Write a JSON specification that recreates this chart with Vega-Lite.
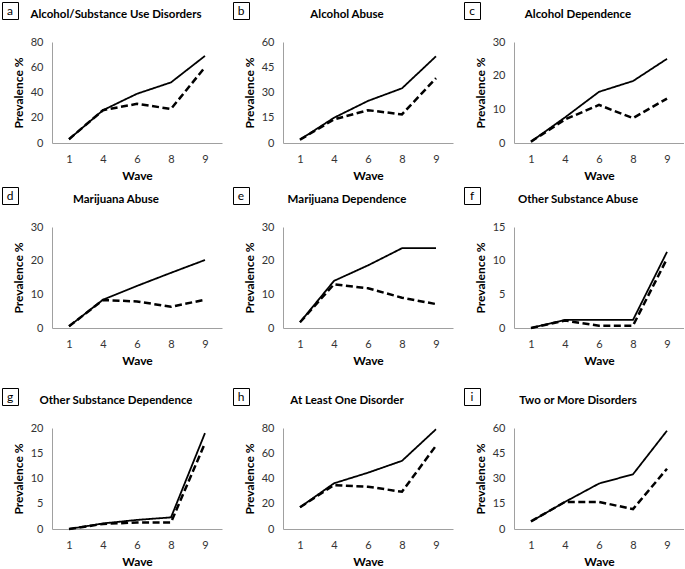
{
  "$schema": "https://vega.github.io/schema/vega-lite/v6.json",
  "description": "Prevalence of alcohol and substance use disorders across waves, nine panels",
  "padding": {"left": 1, "top": 1, "right": 0, "bottom": 0},
  "datasets": {
    "prev": [
      {"panel": "a", "series": "Series 1", "wave": 1, "value": 3},
      {"panel": "a", "series": "Series 1", "wave": 4, "value": 26},
      {"panel": "a", "series": "Series 1", "wave": 6, "value": 39},
      {"panel": "a", "series": "Series 1", "wave": 8, "value": 48},
      {"panel": "a", "series": "Series 1", "wave": 9, "value": 69},
      {"panel": "a", "series": "Series 2", "wave": 1, "value": 3},
      {"panel": "a", "series": "Series 2", "wave": 4, "value": 26},
      {"panel": "a", "series": "Series 2", "wave": 6, "value": 31},
      {"panel": "a", "series": "Series 2", "wave": 8, "value": 27},
      {"panel": "a", "series": "Series 2", "wave": 9, "value": 60},
      {"panel": "b", "series": "Series 1", "wave": 1, "value": 2},
      {"panel": "b", "series": "Series 1", "wave": 4, "value": 15},
      {"panel": "b", "series": "Series 1", "wave": 6, "value": 25},
      {"panel": "b", "series": "Series 1", "wave": 8, "value": 32.5},
      {"panel": "b", "series": "Series 1", "wave": 9, "value": 51.5},
      {"panel": "b", "series": "Series 2", "wave": 1, "value": 2},
      {"panel": "b", "series": "Series 2", "wave": 4, "value": 14},
      {"panel": "b", "series": "Series 2", "wave": 6, "value": 19.5},
      {"panel": "b", "series": "Series 2", "wave": 8, "value": 17},
      {"panel": "b", "series": "Series 2", "wave": 9, "value": 38.5},
      {"panel": "c", "series": "Series 1", "wave": 1, "value": 0.4},
      {"panel": "c", "series": "Series 1", "wave": 4, "value": 7.6},
      {"panel": "c", "series": "Series 1", "wave": 6, "value": 15.2},
      {"panel": "c", "series": "Series 1", "wave": 8, "value": 18.4},
      {"panel": "c", "series": "Series 1", "wave": 9, "value": 25},
      {"panel": "c", "series": "Series 2", "wave": 1, "value": 0.4},
      {"panel": "c", "series": "Series 2", "wave": 4, "value": 7},
      {"panel": "c", "series": "Series 2", "wave": 6, "value": 11.3},
      {"panel": "c", "series": "Series 2", "wave": 8, "value": 7.4},
      {"panel": "c", "series": "Series 2", "wave": 9, "value": 13.2},
      {"panel": "d", "series": "Series 1", "wave": 1, "value": 0.5},
      {"panel": "d", "series": "Series 1", "wave": 4, "value": 8.4},
      {"panel": "d", "series": "Series 1", "wave": 6, "value": 12.5},
      {"panel": "d", "series": "Series 1", "wave": 8, "value": 16.4},
      {"panel": "d", "series": "Series 1", "wave": 9, "value": 20.2},
      {"panel": "d", "series": "Series 2", "wave": 1, "value": 0.5},
      {"panel": "d", "series": "Series 2", "wave": 4, "value": 8.3},
      {"panel": "d", "series": "Series 2", "wave": 6, "value": 7.9},
      {"panel": "d", "series": "Series 2", "wave": 8, "value": 6.3},
      {"panel": "d", "series": "Series 2", "wave": 9, "value": 8.4},
      {"panel": "e", "series": "Series 1", "wave": 1, "value": 1.7},
      {"panel": "e", "series": "Series 1", "wave": 4, "value": 14},
      {"panel": "e", "series": "Series 1", "wave": 6, "value": 18.6},
      {"panel": "e", "series": "Series 1", "wave": 8, "value": 23.7},
      {"panel": "e", "series": "Series 1", "wave": 9, "value": 23.7},
      {"panel": "e", "series": "Series 2", "wave": 1, "value": 1.7},
      {"panel": "e", "series": "Series 2", "wave": 4, "value": 13},
      {"panel": "e", "series": "Series 2", "wave": 6, "value": 11.8},
      {"panel": "e", "series": "Series 2", "wave": 8, "value": 9},
      {"panel": "e", "series": "Series 2", "wave": 9, "value": 7.1},
      {"panel": "f", "series": "Series 1", "wave": 1, "value": 0},
      {"panel": "f", "series": "Series 1", "wave": 4, "value": 1.2},
      {"panel": "f", "series": "Series 1", "wave": 6, "value": 1.2},
      {"panel": "f", "series": "Series 1", "wave": 8, "value": 1.2},
      {"panel": "f", "series": "Series 1", "wave": 9, "value": 11.3},
      {"panel": "f", "series": "Series 2", "wave": 1, "value": 0},
      {"panel": "f", "series": "Series 2", "wave": 4, "value": 1.1},
      {"panel": "f", "series": "Series 2", "wave": 6, "value": 0.35},
      {"panel": "f", "series": "Series 2", "wave": 8, "value": 0.35},
      {"panel": "f", "series": "Series 2", "wave": 9, "value": 10.3},
      {"panel": "g", "series": "Series 1", "wave": 1, "value": 0},
      {"panel": "g", "series": "Series 1", "wave": 4, "value": 1.1},
      {"panel": "g", "series": "Series 1", "wave": 6, "value": 1.8},
      {"panel": "g", "series": "Series 1", "wave": 8, "value": 2.3},
      {"panel": "g", "series": "Series 1", "wave": 9, "value": 19},
      {"panel": "g", "series": "Series 2", "wave": 1, "value": 0},
      {"panel": "g", "series": "Series 2", "wave": 4, "value": 1},
      {"panel": "g", "series": "Series 2", "wave": 6, "value": 1.3},
      {"panel": "g", "series": "Series 2", "wave": 8, "value": 1.3},
      {"panel": "g", "series": "Series 2", "wave": 9, "value": 17},
      {"panel": "h", "series": "Series 1", "wave": 1, "value": 17.2},
      {"panel": "h", "series": "Series 1", "wave": 4, "value": 36.2},
      {"panel": "h", "series": "Series 1", "wave": 6, "value": 44.6},
      {"panel": "h", "series": "Series 1", "wave": 8, "value": 54},
      {"panel": "h", "series": "Series 1", "wave": 9, "value": 79},
      {"panel": "h", "series": "Series 2", "wave": 1, "value": 17.2},
      {"panel": "h", "series": "Series 2", "wave": 4, "value": 34.8},
      {"panel": "h", "series": "Series 2", "wave": 6, "value": 33.5},
      {"panel": "h", "series": "Series 2", "wave": 8, "value": 29.5},
      {"panel": "h", "series": "Series 2", "wave": 9, "value": 66},
      {"panel": "i", "series": "Series 1", "wave": 1, "value": 4.5},
      {"panel": "i", "series": "Series 1", "wave": 4, "value": 16.1},
      {"panel": "i", "series": "Series 1", "wave": 6, "value": 27},
      {"panel": "i", "series": "Series 1", "wave": 8, "value": 32.5},
      {"panel": "i", "series": "Series 1", "wave": 9, "value": 58.4},
      {"panel": "i", "series": "Series 2", "wave": 1, "value": 4.5},
      {"panel": "i", "series": "Series 2", "wave": 4, "value": 16.1},
      {"panel": "i", "series": "Series 2", "wave": 6, "value": 16.1},
      {"panel": "i", "series": "Series 2", "wave": 8, "value": 11.8},
      {"panel": "i", "series": "Series 2", "wave": 9, "value": 35.8}
    ]
  },
  "vconcat": [
    {
      "vconcat": [
        {
          "hconcat": [
            {
              "concat": [
                {"data": {"values": [{"letter": "a"}]}, "width": 16, "height": 17, "view": {"stroke": "black"}, "mark": {"type": "text", "fontSize": 12}, "encoding": {"text": {"field": "letter"}}},
                {"data": {"values": [{"title": "Alcohol/Substance Use Disorders"}]}, "width": 170, "height": 26, "mark": {"type": "text", "fontSize": 11.5, "fontWeight": "bold", "dx": -21}, "encoding": {"text": {"field": "title"}}},
                {"data": {"values": []}, "width": 16, "height": 101, "mark": "text", "encoding": {}},
                {"data": {"name": "prev"}, "transform": [{"filter": "datum.panel === 'a'"}], "width": 170, "height": 101, "mark": {"type": "line"}, "encoding": {"x": {"field": "wave", "type": "ordinal", "scale": {"padding": 0.5}, "axis": {"title": "Wave"}}, "y": {"field": "value", "type": "quantitative", "scale": {"domain": [0, 80], "nice": false}, "axis": {"values": [0, 20, 40, 60, 80], "title": "Prevalence %"}}, "strokeDash": {"field": "series", "type": "nominal", "scale": {"domain": ["Series 1", "Series 2"], "range": [[1, 0], [7, 3.5]]}, "legend": null}, "strokeWidth": {"field": "series", "type": "nominal", "scale": {"domain": ["Series 1", "Series 2"], "range": [1.8, 2.5]}, "legend": null}}}
              ],
              "columns": 2, "align": "each", "spacing": {"row": 8, "column": -7}
            },
            {
              "concat": [
                {"data": {"values": [{"letter": "b"}]}, "width": 16, "height": 17, "view": {"stroke": "black"}, "mark": {"type": "text", "fontSize": 12}, "encoding": {"text": {"field": "letter"}}},
                {"data": {"values": [{"title": "Alcohol Abuse"}]}, "width": 170, "height": 26, "mark": {"type": "text", "fontSize": 11.5, "fontWeight": "bold", "dx": -21}, "encoding": {"text": {"field": "title"}}},
                {"data": {"values": []}, "width": 16, "height": 101, "mark": "text", "encoding": {}},
                {"data": {"name": "prev"}, "transform": [{"filter": "datum.panel === 'b'"}], "width": 170, "height": 101, "mark": {"type": "line"}, "encoding": {"x": {"field": "wave", "type": "ordinal", "scale": {"padding": 0.5}, "axis": {"title": "Wave"}}, "y": {"field": "value", "type": "quantitative", "scale": {"domain": [0, 60], "nice": false}, "axis": {"values": [0, 15, 30, 45, 60], "title": "Prevalence %"}}, "strokeDash": {"field": "series", "type": "nominal", "scale": {"domain": ["Series 1", "Series 2"], "range": [[1, 0], [7, 3.5]]}, "legend": null}, "strokeWidth": {"field": "series", "type": "nominal", "scale": {"domain": ["Series 1", "Series 2"], "range": [2, 2.5]}, "legend": null}}}
              ],
              "columns": 2, "align": "each", "spacing": {"row": 8, "column": -7}
            },
            {
              "concat": [
                {"data": {"values": [{"letter": "c"}]}, "width": 16, "height": 17, "view": {"stroke": "black"}, "mark": {"type": "text", "fontSize": 12}, "encoding": {"text": {"field": "letter"}}},
                {"data": {"values": [{"title": "Alcohol Dependence"}]}, "width": 170, "height": 26, "mark": {"type": "text", "fontSize": 11.5, "fontWeight": "bold", "dx": -21}, "encoding": {"text": {"field": "title"}}},
                {"data": {"values": []}, "width": 16, "height": 101, "mark": "text", "encoding": {}},
                {"data": {"name": "prev"}, "transform": [{"filter": "datum.panel === 'c'"}], "width": 170, "height": 101, "mark": {"type": "line"}, "encoding": {"x": {"field": "wave", "type": "ordinal", "scale": {"padding": 0.5}, "axis": {"title": "Wave"}}, "y": {"field": "value", "type": "quantitative", "scale": {"domain": [0, 30], "nice": false}, "axis": {"values": [0, 10, 20, 30], "title": "Prevalence %"}}, "strokeDash": {"field": "series", "type": "nominal", "scale": {"domain": ["Series 1", "Series 2"], "range": [[1, 0], [7, 3.5]]}, "legend": null}, "strokeWidth": {"field": "series", "type": "nominal", "scale": {"domain": ["Series 1", "Series 2"], "range": [2, 2.5]}, "legend": null}}}
              ],
              "columns": 2, "align": "each", "spacing": {"row": 8, "column": -7}
            }
          ],
          "spacing": 10
        },
        {
          "hconcat": [
            {
              "concat": [
                {"data": {"values": [{"letter": "d"}]}, "width": 16, "height": 17, "view": {"stroke": "black"}, "mark": {"type": "text", "fontSize": 12}, "encoding": {"text": {"field": "letter"}}},
                {"data": {"values": [{"title": "Marijuana Abuse"}]}, "width": 170, "height": 26, "mark": {"type": "text", "fontSize": 11.5, "fontWeight": "bold", "dx": -21}, "encoding": {"text": {"field": "title"}}},
                {"data": {"values": []}, "width": 16, "height": 101, "mark": "text", "encoding": {}},
                {"data": {"name": "prev"}, "transform": [{"filter": "datum.panel === 'd'"}], "width": 170, "height": 101, "mark": {"type": "line"}, "encoding": {"x": {"field": "wave", "type": "ordinal", "scale": {"padding": 0.5}, "axis": {"title": "Wave"}}, "y": {"field": "value", "type": "quantitative", "scale": {"domain": [0, 30], "nice": false}, "axis": {"values": [0, 10, 20, 30], "title": "Prevalence %"}}, "strokeDash": {"field": "series", "type": "nominal", "scale": {"domain": ["Series 1", "Series 2"], "range": [[1, 0], [7, 3.5]]}, "legend": null}, "strokeWidth": {"field": "series", "type": "nominal", "scale": {"domain": ["Series 1", "Series 2"], "range": [2, 2.5]}, "legend": null}}}
              ],
              "columns": 2, "align": "each", "spacing": {"row": 8, "column": -7}
            },
            {
              "concat": [
                {"data": {"values": [{"letter": "e"}]}, "width": 16, "height": 17, "view": {"stroke": "black"}, "mark": {"type": "text", "fontSize": 12}, "encoding": {"text": {"field": "letter"}}},
                {"data": {"values": [{"title": "Marijuana Dependence"}]}, "width": 170, "height": 26, "mark": {"type": "text", "fontSize": 11.5, "fontWeight": "bold", "dx": -21}, "encoding": {"text": {"field": "title"}}},
                {"data": {"values": []}, "width": 16, "height": 101, "mark": "text", "encoding": {}},
                {"data": {"name": "prev"}, "transform": [{"filter": "datum.panel === 'e'"}], "width": 170, "height": 101, "mark": {"type": "line"}, "encoding": {"x": {"field": "wave", "type": "ordinal", "scale": {"padding": 0.5}, "axis": {"title": "Wave"}}, "y": {"field": "value", "type": "quantitative", "scale": {"domain": [0, 30], "nice": false}, "axis": {"values": [0, 10, 20, 30], "title": "Prevalence %"}}, "strokeDash": {"field": "series", "type": "nominal", "scale": {"domain": ["Series 1", "Series 2"], "range": [[1, 0], [7, 3.5]]}, "legend": null}, "strokeWidth": {"field": "series", "type": "nominal", "scale": {"domain": ["Series 1", "Series 2"], "range": [2, 2.5]}, "legend": null}}}
              ],
              "columns": 2, "align": "each", "spacing": {"row": 8, "column": -7}
            },
            {
              "concat": [
                {"data": {"values": [{"letter": "f"}]}, "width": 16, "height": 17, "view": {"stroke": "black"}, "mark": {"type": "text", "fontSize": 12}, "encoding": {"text": {"field": "letter"}}},
                {"data": {"values": [{"title": "Other Substance Abuse"}]}, "width": 170, "height": 26, "mark": {"type": "text", "fontSize": 11.5, "fontWeight": "bold", "dx": -21}, "encoding": {"text": {"field": "title"}}},
                {"data": {"values": []}, "width": 16, "height": 101, "mark": "text", "encoding": {}},
                {"data": {"name": "prev"}, "transform": [{"filter": "datum.panel === 'f'"}], "width": 170, "height": 101, "mark": {"type": "line"}, "encoding": {"x": {"field": "wave", "type": "ordinal", "scale": {"padding": 0.5}, "axis": {"title": "Wave"}}, "y": {"field": "value", "type": "quantitative", "scale": {"domain": [0, 15], "nice": false}, "axis": {"values": [0, 5, 10, 15], "title": "Prevalence %"}}, "strokeDash": {"field": "series", "type": "nominal", "scale": {"domain": ["Series 1", "Series 2"], "range": [[1, 0], [7, 3.5]]}, "legend": null}, "strokeWidth": {"field": "series", "type": "nominal", "scale": {"domain": ["Series 1", "Series 2"], "range": [2, 2.5]}, "legend": null}}}
              ],
              "columns": 2, "align": "each", "spacing": {"row": 8, "column": -7}
            }
          ],
          "spacing": 10
        }
      ],
      "spacing": 5
    },
    {
      "hconcat": [
        {
          "concat": [
            {"data": {"values": [{"letter": "g"}]}, "width": 16, "height": 17, "view": {"stroke": "black"}, "mark": {"type": "text", "fontSize": 12}, "encoding": {"text": {"field": "letter"}}},
            {"data": {"values": [{"title": "Other Substance Dependence"}]}, "width": 170, "height": 26, "mark": {"type": "text", "fontSize": 11.5, "fontWeight": "bold", "dx": -21}, "encoding": {"text": {"field": "title"}}},
            {"data": {"values": []}, "width": 16, "height": 101, "mark": "text", "encoding": {}},
            {"data": {"name": "prev"}, "transform": [{"filter": "datum.panel === 'g'"}], "width": 170, "height": 101, "mark": {"type": "line"}, "encoding": {"x": {"field": "wave", "type": "ordinal", "scale": {"padding": 0.5}, "axis": {"title": "Wave"}}, "y": {"field": "value", "type": "quantitative", "scale": {"domain": [0, 20], "nice": false}, "axis": {"values": [0, 5, 10, 15, 20], "title": "Prevalence %"}}, "strokeDash": {"field": "series", "type": "nominal", "scale": {"domain": ["Series 1", "Series 2"], "range": [[1, 0], [7, 3.5]]}, "legend": null}, "strokeWidth": {"field": "series", "type": "nominal", "scale": {"domain": ["Series 1", "Series 2"], "range": [2, 2.5]}, "legend": null}}}
          ],
          "columns": 2, "align": "each", "spacing": {"row": 8, "column": -7}
        },
        {
          "concat": [
            {"data": {"values": [{"letter": "h"}]}, "width": 16, "height": 17, "view": {"stroke": "black"}, "mark": {"type": "text", "fontSize": 12}, "encoding": {"text": {"field": "letter"}}},
            {"data": {"values": [{"title": "At Least One Disorder"}]}, "width": 170, "height": 26, "mark": {"type": "text", "fontSize": 11.5, "fontWeight": "bold", "dx": -21}, "encoding": {"text": {"field": "title"}}},
            {"data": {"values": []}, "width": 16, "height": 101, "mark": "text", "encoding": {}},
            {"data": {"name": "prev"}, "transform": [{"filter": "datum.panel === 'h'"}], "width": 170, "height": 101, "mark": {"type": "line"}, "encoding": {"x": {"field": "wave", "type": "ordinal", "scale": {"padding": 0.5}, "axis": {"title": "Wave"}}, "y": {"field": "value", "type": "quantitative", "scale": {"domain": [0, 80], "nice": false}, "axis": {"values": [0, 20, 40, 60, 80], "title": "Prevalence %"}}, "strokeDash": {"field": "series", "type": "nominal", "scale": {"domain": ["Series 1", "Series 2"], "range": [[1, 0], [7, 3.5]]}, "legend": null}, "strokeWidth": {"field": "series", "type": "nominal", "scale": {"domain": ["Series 1", "Series 2"], "range": [2, 2.5]}, "legend": null}}}
          ],
          "columns": 2, "align": "each", "spacing": {"row": 8, "column": -7}
        },
        {
          "concat": [
            {"data": {"values": [{"letter": "i"}]}, "width": 16, "height": 17, "view": {"stroke": "black"}, "mark": {"type": "text", "fontSize": 12}, "encoding": {"text": {"field": "letter"}}},
            {"data": {"values": [{"title": "Two or More Disorders"}]}, "width": 170, "height": 26, "mark": {"type": "text", "fontSize": 11.5, "fontWeight": "bold", "dx": -21}, "encoding": {"text": {"field": "title"}}},
            {"data": {"values": []}, "width": 16, "height": 101, "mark": "text", "encoding": {}},
            {"data": {"name": "prev"}, "transform": [{"filter": "datum.panel === 'i'"}], "width": 170, "height": 101, "mark": {"type": "line"}, "encoding": {"x": {"field": "wave", "type": "ordinal", "scale": {"padding": 0.5}, "axis": {"title": "Wave"}}, "y": {"field": "value", "type": "quantitative", "scale": {"domain": [0, 60], "nice": false}, "axis": {"values": [0, 15, 30, 45, 60], "title": "Prevalence %"}}, "strokeDash": {"field": "series", "type": "nominal", "scale": {"domain": ["Series 1", "Series 2"], "range": [[1, 0], [7, 3.5]]}, "legend": null}, "strokeWidth": {"field": "series", "type": "nominal", "scale": {"domain": ["Series 1", "Series 2"], "range": [2, 2.5]}, "legend": null}}}
          ],
          "columns": 2, "align": "each", "spacing": {"row": 8, "column": -7}
        }
      ],
      "spacing": 10
    }
  ],
  "spacing": 21,
  "config": {
    "font": "Lato",
    "view": {"stroke": null},
    "line": {"color": "black", "strokeCap": "butt", "strokeJoin": "miter"},
    "text": {"font": "Lato", "color": "black"},
    "axis": {
      "grid": false,
      "ticks": false,
      "tickSize": 0,
      "domainColor": "#a0a0a0",
      "domainWidth": 1,
      "labelFont": "Lato",
      "labelFontSize": 11,
      "labelColor": "#333333",
      "titleFont": "Lato",
      "titleFontSize": 12,
      "titleFontWeight": "bold",
      "titleColor": "black"
    },
    "axisX": {"labelAngle": 0, "labelPadding": 10, "titlePadding": 6},
    "axisY": {"labelPadding": 9, "titlePadding": 5}
  }
}
